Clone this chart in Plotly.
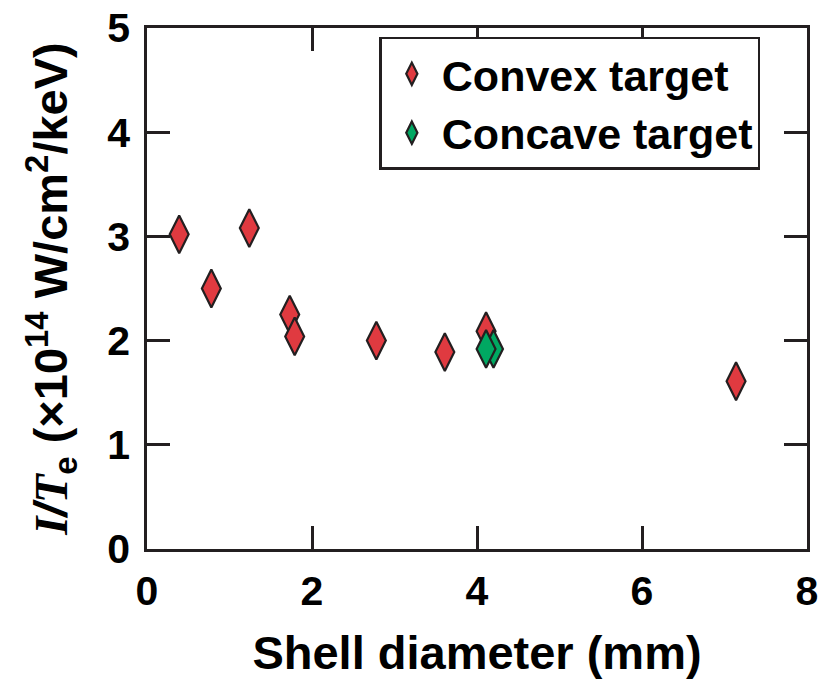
import plotly.graph_objects as go

convex_x = [0.39, 0.78, 1.24, 1.73, 1.79, 2.78, 3.61, 4.11, 7.14]
convex_y = [3.02, 2.50, 3.08, 2.25, 2.04, 2.00, 1.89, 2.09, 1.61]
concave_x = [4.20, 4.11]
concave_y = [1.92, 1.92]

x_ticks = [0, 2, 4, 6, 8]
y_ticks = [0, 1, 2, 3, 4, 5]

FONT = "Liberation Sans, Arial, sans-serif"
OUT = "#231F20"

fig = go.Figure()
fig.add_trace(go.Scatter(
    x=convex_x, y=convex_y, mode="markers", name="<b>Convex target</b>",
    marker=dict(symbol="diamond-tall", size=27, color="#E03A40",
                line=dict(color=OUT, width=2.2)),
))
fig.add_trace(go.Scatter(
    x=concave_x, y=concave_y, mode="markers", name="<b>Concave target</b>",
    marker=dict(symbol="diamond-tall", size=27, color="#00A862",
                line=dict(color=OUT, width=2.2)),
))

axis_common = dict(
    showline=True, linecolor=OUT, linewidth=2.5, mirror="allticks",
    ticks="inside", ticklen=23, tickwidth=2.5, tickcolor=OUT,
    showgrid=False, zeroline=False, automargin=False,
    tickfont=dict(family=FONT, size=41, color="black"),
)

fig.update_layout(
    width=830, height=679,
    margin=dict(l=147, r=23, t=28, b=130),
    plot_bgcolor="white", paper_bgcolor="white",
    showlegend=True,
    legend=dict(
        x=0.352, y=0.983, xanchor="left", yanchor="top",
        bordercolor=OUT, borderwidth=2.5, bgcolor="white",
        font=dict(family=FONT, size=43, color="black"),
        itemsizing="trace", tracegroupgap=0, itemwidth=50,
    ),
    xaxis=dict(
        range=[0, 8], tickvals=x_ticks, ticktext=[f"<b>{v}</b>" for v in x_ticks],
        title=dict(text="<b>Shell diameter (mm)</b>",
                   font=dict(family=FONT, size=47, color="black"), standoff=24),
        ticklabelstandoff=4,
        **axis_common,
    ),
    yaxis=dict(
        range=[0, 5], tickvals=y_ticks, ticktext=[f"<b>{v}</b>" for v in y_ticks],
        title=dict(text="<b><i><span style='font-family:Liberation Serif'>I</span>/<span style='font-family:Liberation Serif'>T</span></i><sub>e</sub> (×10<sup>14</sup> W/cm<sup>2</sup>/keV)</b>",
                   font=dict(family=FONT, size=47, color="black"), standoff=25),
        ticklabelstandoff=6,
        **axis_common,
    ),
)

fig.write_html("out.html")
